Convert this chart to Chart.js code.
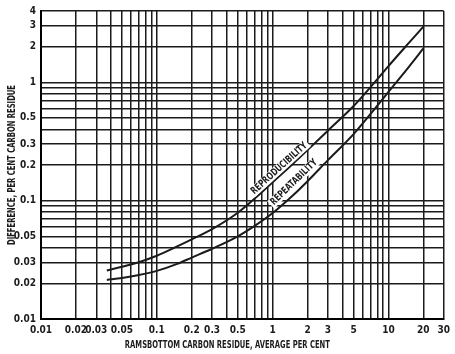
<!DOCTYPE html>
<html>
<head>
<meta charset="utf-8">
<script src="https://cdn.jsdelivr.net/npm/chart.js@4.4.1/dist/chart.umd.min.js"></script>
<style>
  html, body { margin: 0; padding: 0; background: #fff; }
  #wrap { width: 455px; height: 354px; }
</style>
</head>
<body>
<div id="wrap"><canvas id="chart"></canvas></div>
<script>
// Ramsbottom carbon residue precision chart (log-log)
const residueX = [0.037, 0.05, 0.07, 0.1, 0.15, 0.2, 0.3, 0.5, 0.7, 1, 1.5, 2, 3, 5, 7, 10, 15, 20];
const reproducibility = [0.0257, 0.0276, 0.0302, 0.0342, 0.041, 0.047, 0.0574, 0.079, 0.104, 0.143, 0.205, 0.267, 0.39, 0.63, 0.91, 1.37, 2.15, 2.95];
const repeatability = [0.0214, 0.0222, 0.0235, 0.0255, 0.0292, 0.033, 0.0392, 0.05, 0.0612, 0.0785, 0.111, 0.146, 0.22, 0.365, 0.54, 0.83, 1.35, 1.93];

const xTickLabels = [0.01, 0.02, 0.03, 0.05, 0.1, 0.2, 0.3, 0.5, 1, 2, 3, 5, 10, 20, 30];
const yTickLabels = [0.01, 0.02, 0.03, 0.05, 0.1, 0.2, 0.3, 0.5, 1, 2, 3, 4];
const xRange = [0.01, 30];
const yRange = [0.01, 4];

const seriesNames = ['REPRODUCIBILITY', 'REPEATABILITY'];
const nameAnchorX = [1.14, 1.53];
const nameAnchorY = [0.187, 0.143];

const xTitle = 'RAMSBOTTOM CARBON RESIDUE, AVERAGE PER CENT';
const yTitle = 'DIFFERENCE, PER CENT CARBON RESIDUE';

const FONT = "'DejaVu Sans Condensed', 'Liberation Sans Narrow', 'DejaVu Sans', sans-serif";
const INK = '#1b1b1b';

// every 1..9 multiple of each decade inside the range -> grid lines
function logGrid(min, max) {
    const out = [];
    for (let e = -3; e <= 3; e++) {
        for (let m = 1; m <= 9; m++) {
            const v = +(m * Math.pow(10, e)).toPrecision(3);
            if (v >= min * 0.9999 && v <= max * 1.0001) out.push(v);
        }
    }
    return out;
}

function tickLabel(list) {
    return function(value) {
        const v = +(+value).toPrecision(3);
        return list.includes(v) ? String(v) : '';
    };
}

function fitText(ctx, text, cx, cy, angle, width) {
    ctx.save();
    ctx.translate(cx, cy);
    ctx.rotate(angle);
    const w = ctx.measureText(text).width;
    ctx.scale(width / w, 1);
    ctx.textAlign = 'center';
    ctx.textBaseline = 'middle';
    ctx.fillText(text, 0, 0);
    ctx.restore();
}

const titlesPlugin = {
    id: 'titles',
    afterDraw(chart) {
        const { ctx, chartArea } = chart;
        ctx.save();
        ctx.fillStyle = INK;
        ctx.font = 'bold 11px ' + FONT;
        fitText(ctx, xTitle, (chartArea.left + chartArea.right) / 2 - 15, 345, 0, 205);
        fitText(ctx, yTitle, 12, (chartArea.top + chartArea.bottom) / 2, -Math.PI / 2, 160);
        ctx.restore();
    }
};

const curveNamePlugin = {
    id: 'curveNames',
    afterDatasetsDraw(chart) {
        const { ctx, scales: { x, y } } = chart;
        const widths = [72, 61];
        chart.data.datasets.forEach((ds, k) => {
            const lx = nameAnchorX[k];
            let i = 0;
            while (i < ds.data.length - 2 && ds.data[i + 1].x <= lx) i++;
            const p0 = ds.data[i], p1 = ds.data[i + 1];
            const ang = Math.atan2(
                y.getPixelForValue(p1.y) - y.getPixelForValue(p0.y),
                x.getPixelForValue(p1.x) - x.getPixelForValue(p0.x)
            );
            const cx = x.getPixelForValue(lx);
            const cy = y.getPixelForValue(nameAnchorY[k]);
            ctx.save();
            ctx.translate(cx, cy);
            ctx.rotate(ang);
            ctx.fillStyle = '#fff';
            ctx.fillRect(-widths[k] / 2 - 2, -5, widths[k] + 4, 10);
            ctx.restore();
            ctx.save();
            ctx.fillStyle = INK;
            ctx.font = 'bold 10px ' + FONT;
            fitText(ctx, seriesNames[k], cx, cy, ang, widths[k]);
            ctx.restore();
        });
    }
};

const toPoints = (xs, ys) => xs.map((v, i) => ({ x: v, y: ys[i] }));

const ctx = document.getElementById('chart').getContext('2d');
new Chart(ctx, {
    type: 'line',
    data: {
        datasets: [
            { label: seriesNames[0], data: toPoints(residueX, reproducibility) },
            { label: seriesNames[1], data: toPoints(residueX, repeatability) }
        ]
    },
    options: {
        responsive: true,
        maintainAspectRatio: false,
        animation: false,
        layout: { padding: { top: 7, right: 8, left: 0, bottom: 0 } },
        elements: {
            line: { borderColor: INK, borderWidth: 2, tension: 0.4, cubicInterpolationMode: 'monotone', fill: false },
            point: { radius: 0, hoverRadius: 0 }
        },
        plugins: {
            legend: { display: false },
            tooltip: { enabled: false }
        },
        scales: {
            x: {
                type: 'logarithmic',
                min: xRange[0],
                max: xRange[1],
                afterBuildTicks: s => { s.ticks = logGrid(xRange[0], xRange[1]).map(v => ({ value: v })); },
                afterFit: s => { s.height = 35; },
                grid: { color: INK, lineWidth: 1.5, drawTicks: false },
                border: { color: '#000', width: 2 },
                ticks: {
                    autoSkip: false, maxRotation: 0, padding: 5,
                    color: INK, font: { family: FONT, size: 10, weight: 'bold' },
                    callback: tickLabel(xTickLabels)
                }
            },
            y: {
                type: 'logarithmic',
                min: yRange[0],
                max: yRange[1],
                afterBuildTicks: s => { s.ticks = logGrid(yRange[0], yRange[1]).map(v => ({ value: v })); },
                afterFit: s => { s.width = 41; },
                grid: { color: INK, lineWidth: 1.5, drawTicks: false },
                border: { color: '#000', width: 2 },
                ticks: {
                    autoSkip: false, padding: 5,
                    color: INK, font: { family: FONT, size: 10, weight: 'bold' },
                    callback: tickLabel(yTickLabels)
                }
            }
        }
    },
    plugins: [curveNamePlugin, titlesPlugin]
});
</script>
</body>
</html>
